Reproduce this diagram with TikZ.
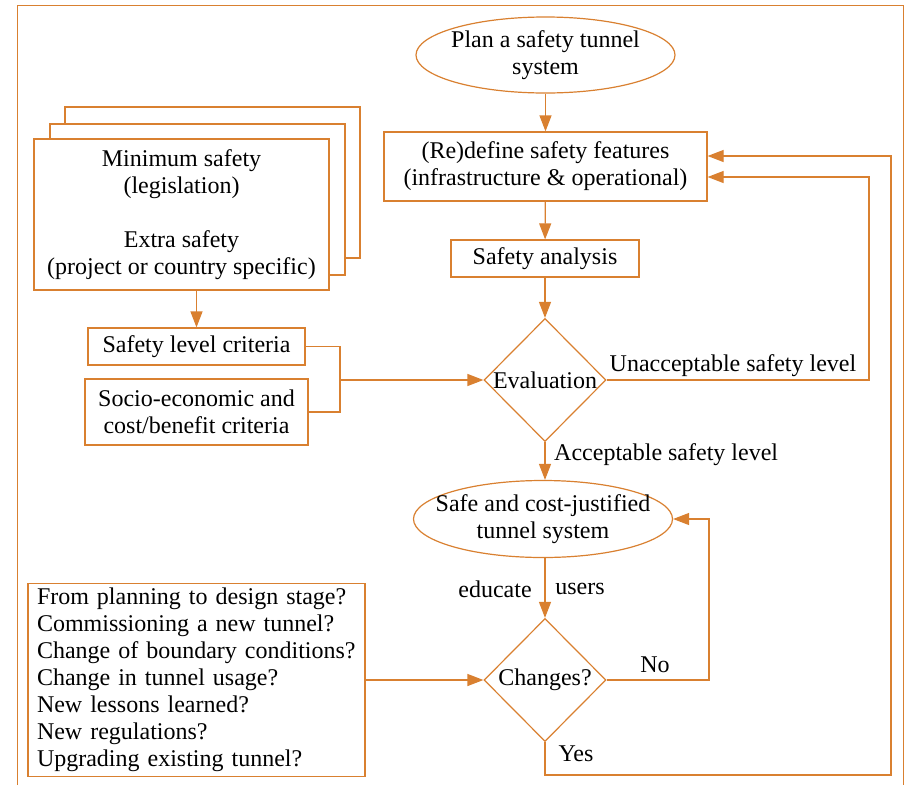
\documentclass[tikz,border=0pt]{standalone}
\usepackage{fontspec}
\setmainfont{Liberation Serif}
\usetikzlibrary{arrows.meta,shapes.geometric,calc}
\definecolor{org}{RGB}{217,128,48}
\begin{document}
\begin{tikzpicture}[x=1pt,y=-1pt,
  base/.style={draw=org,line width=1.2pt,font=\fontsize{24}{27}\selectfont,inner sep=0pt,fill=white,text=black},
  box/.style={base,rectangle,align=center},
  oval/.style={base,ellipse},
  dia/.style={base,diamond,aspect=1},
  lbl/.style={font=\fontsize{24}{27}\selectfont,inner sep=0pt,text=black},
  line/.style={draw=org,line width=1.2pt},
  arr/.style={line,-{Triangle[length=16pt,width=12pt]}}]
\useasboundingbox (0,0) rectangle (908,785);
% frame
\draw[draw=org,line width=1pt] (17,785) -- (17,5) -- (903,5) -- (903,785);

% main column
\node[oval,minimum width=259pt,minimum height=76pt] (plan) at (545.5,55) {};
\node[lbl,align=center] (plant) at (plan.center) {Plan a safety tunnel\\system};
\node[box,minimum width=323pt,minimum height=69pt] (redef) at (545.5,166.5) {(Re)define safety features\\(infrastructure \& operational)};
\node[box,minimum width=188pt,minimum height=37pt] (sa) at (545,258.5) {Safety analysis};
\node[dia,minimum width=122pt,minimum height=123pt] (eval) at (545,380) {Evaluation};
\node[oval,minimum width=259pt,minimum height=77pt] (safe) at (543,519) {};
\node[lbl,align=center] (safet) at (safe.center) {Safe and cost-justified\\tunnel system};
\node[dia,minimum width=122pt,minimum height=123pt] (chg) at (545,680) {Changes?};

% left stack
\node[box,minimum width=295pt,minimum height=151pt] (back) at (212.5,182.5) {};
\node[box,minimum width=295pt,minimum height=151pt] (mid) at (197.5,199.5) {};
\node[box,minimum width=295pt,minimum height=151pt] (front) at (181.5,214.5) {Minimum safety\\(legislation)\\[27pt]Extra safety\\(project or country specific)};
\node[box,minimum width=217pt,minimum height=37pt] (slc) at (196.5,346.5) {Safety level criteria};
\node[box,minimum width=223pt,minimum height=66pt] (socio) at (196.5,412) {Socio-economic and\\cost/benefit criteria};
\node[box,align=left,minimum width=337pt,minimum height=193pt,text width=319pt] (q) at (196.5,680) {From planning to design stage?\\Commissioning a new tunnel?\\Change of boundary conditions?\\Change in tunnel usage?\\New lessons learned?\\New regulations?\\Upgrading existing tunnel?};

% coordinates
\coordinate (j) at (340,380);
\coordinate (u) at (869,177);
\coordinate (nc) at (709,519);
\coordinate (yc) at (891,775);
\coordinate (yt) at (891,156);

% connectors
\draw[arr] (plan) -- (redef);
\draw[arr] (redef) -- (sa);
\draw[arr] (sa) -- (eval);
\draw[arr] (eval.south) -- (eval.south |- safe.north);
\draw[arr] (safe.south -| chg.north) -- (chg.north);
\draw[arr] (slc.north |- front.south) -- (slc.north);
\draw[line] (slc.east) -| (j);
\draw[line] (socio.east) -| (j);
\draw[arr] (j) -- (eval.west);
\draw[arr] (eval.east) -| (u) -- (u -| redef.east);
\draw[arr] (chg.east) -| (nc) -- (safe.east);
\draw[arr] (chg.south) |- (yc) -- (yt) -- (yt -| redef.east);
\draw[arr] (q.east) -- (chg.west);

% labels
\node[lbl] (lu) at (733,366) {Unacceptable safety level};
\node[lbl,anchor=west] (la) at (554,455) {Acceptable safety level};
\node[lbl] (le) at (495,589) {educate};
\node[lbl] (lus) at (580,589) {users};
\node[lbl] (lno) at (655,665) {No};
\node[lbl] (lyes) at (576,754) {Yes};
\end{tikzpicture}
\end{document}
